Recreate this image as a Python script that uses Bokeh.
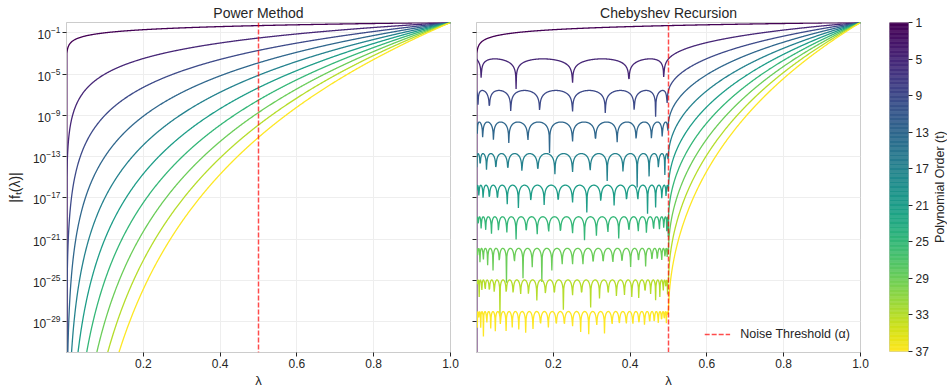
import numpy as np
from bokeh.plotting import figure
from bokeh.layouts import row
from bokeh.models import (Range1d, FixedTicker, CustomJSTickFormatter, NumeralTickFormatter,
                          Legend, LegendItem, Span)
from bokeh.core.properties import value
from bokeh.palettes import Viridis256
from bokeh.embed import file_html
from bokeh.resources import INLINE

# ---- data ----
orders = [1, 5, 9, 13, 17, 21, 25, 29, 33, 37]        # polynomial orders t
alpha = 0.5                                            # noise threshold
lam_start, lam_end, n_points = 0.0, 1.0, 1000          # eigenvalue grid
x_ticks = [0.2, 0.4, 0.6, 0.8, 1.0]
y_tick_exponents = [-1, -5, -9, -13, -17, -21, -25, -29]
y_min, y_max = 1e-32, 1.0
cbar_ticks = [1, 5, 9, 13, 17, 21, 25, 29, 33, 37]
cbar_title = "Polynomial Order (t)"

FONT = "Liberation Sans"
TXT = "#262626"
SPINE = "#cccccc"
GRID = "#eeeeee"

lam = np.linspace(lam_start, lam_end, n_points)


def cheb(t, x):
    t_prev, t_cur = np.ones_like(x), x.copy()
    for _ in range(t - 1):
        t_prev, t_cur = t_cur, 2 * x * t_cur - t_prev
    return t_cur


def color_for(t):
    i = int(round((t - orders[0]) / (orders[-1] - orders[0]) * 255))
    return Viridis256[i]


def style_axis(ax):
    ax.axis_line_color = SPINE
    ax.major_tick_line_color = TXT
    ax.major_tick_out = 4
    ax.major_tick_in = 0
    ax.minor_tick_line_color = None
    ax.major_label_text_font = FONT
    ax.major_label_text_font_size = "12px"
    ax.major_label_text_color = TXT
    ax.axis_label_text_font = FONT
    ax.axis_label_text_font_size = "13px"
    ax.axis_label_text_font_style = "normal"
    ax.axis_label_text_color = TXT
    ax.major_label_standoff = 2


def make_fig(title, border_left, border_right, show_ylabels):
    p = figure(frame_width=384, frame_height=330,
               x_range=Range1d(lam_start, lam_end), y_range=Range1d(y_min, y_max),
               y_axis_type="log", output_backend="svg", toolbar_location=None,
               title=title, min_border_left=border_left, min_border_right=border_right,
               min_border_top=21, min_border_bottom=0,
               background_fill_color="white", border_fill_color="white")
    p.title.text_font = FONT
    p.title.text_font_size = "14px"
    p.title.text_font_style = "normal"
    p.title.text_color = TXT
    p.title.align = "center"
    p.title.standoff = 3
    p.outline_line_color = SPINE
    p.outline_line_width = 1
    style_axis(p.xaxis[0])
    style_axis(p.yaxis[0])
    p.xaxis.ticker = FixedTicker(ticks=x_ticks)
    p.xaxis.formatter = NumeralTickFormatter(format="0.0")
    p.yaxis.ticker = FixedTicker(ticks=[10.0 ** e for e in y_tick_exponents])
    p.xaxis.axis_label = "λ"
    p.xaxis.axis_label_standoff = 2
    if not show_ylabels:
        p.yaxis.formatter = CustomJSTickFormatter(code="return ''")
        p.yaxis.major_label_standoff = 0
    p.xgrid.grid_line_color = GRID
    p.ygrid.grid_line_color = GRID
    return p


# ---- left: power method ----
p1 = make_fig("Power Method", 66, 10, True)
p1.yaxis.axis_label = "|fₜ(λ)|"
p1.yaxis.axis_label_text_font_size = "14px"
p1.yaxis.axis_label_standoff = 7
for t in orders:
    p1.line(lam, np.maximum(lam ** t, 1e-300), line_color=color_for(t), line_width=1.3)
p1.add_layout(Span(location=alpha, dimension="height", line_color="red",
                   line_alpha=0.7, line_width=1.5, line_dash="5 2"))

# ---- right: Chebyshev recursion ----
p2 = make_fig("Chebyshev Recursion", 16, 29, False)
x = 2 * lam / alpha - 1
x1 = np.array([2 / alpha - 1])
for t in orders:
    if t == 1:
        f = lam.copy()
    else:
        f = np.abs(cheb(t, x) / cheb(t, x1)[0])
    p2.line(lam, np.maximum(f, 1e-300), line_color=color_for(t), line_width=1.3)

thr = p2.line([alpha, alpha], [y_min, y_max], line_color="red", line_alpha=0.7,
              line_width=1.5, line_dash="5 2")
legend = Legend(items=[LegendItem(label="Noise Threshold (α)", renderers=[thr])],
                location="bottom_right")
legend.background_fill_alpha = 0
legend.border_line_color = None
legend.label_text_font = FONT
legend.label_text_font_size = "12.5px"
legend.label_text_color = TXT
legend.glyph_width = 26
legend.glyph_height = 16
legend.label_height = 16
legend.label_standoff = 10
legend.margin = 10
legend.padding = 10
p2.add_layout(legend, "center")

# ---- colour bar (separate small figure) ----
p3 = figure(frame_width=19, frame_height=329, x_range=Range1d(0, 1),
            y_range=Range1d(cbar_ticks[-1], cbar_ticks[0]),
            y_axis_location="right", output_backend="svg", toolbar_location=None,
            min_border_left=0, min_border_right=24, min_border_top=22, min_border_bottom=12,
            background_fill_color="white", border_fill_color="white")
levels = np.linspace(cbar_ticks[0], cbar_ticks[-1], len(Viridis256) + 1)
p3.quad(left=0, right=1, bottom=levels[:-1], top=levels[1:],
        fill_color=list(Viridis256), line_color=list(Viridis256), line_width=0.5)
p3.xaxis.visible = False
p3.grid.visible = False
p3.outline_line_color = SPINE
style_axis(p3.yaxis[0])
p3.yaxis.axis_line_color = None
p3.yaxis.ticker = FixedTicker(ticks=cbar_ticks)
p3.yaxis.major_label_standoff = 3

# ---- colour bar title (reads bottom-to-top) ----
p4 = figure(frame_width=15, frame_height=329, x_range=Range1d(0, 1), y_range=Range1d(0, 1),
            x_axis_location=None, y_axis_location=None, output_backend="svg",
            toolbar_location=None, min_border_left=0, min_border_right=0,
            min_border_top=22, min_border_bottom=0,
            background_fill_color="white", border_fill_color="white")
p4.outline_line_color = None
p4.grid.visible = False
p4.text(x=[0.5], y=[0.5], text=[cbar_title], angle=np.pi / 2,
        text_align="center", text_baseline="middle",
        text_font=value(FONT), text_font_size="12.5px", text_color=TXT)

layout = row(p1, p2, p3, p4)
open("out.html", "w").write(file_html(layout, INLINE))
